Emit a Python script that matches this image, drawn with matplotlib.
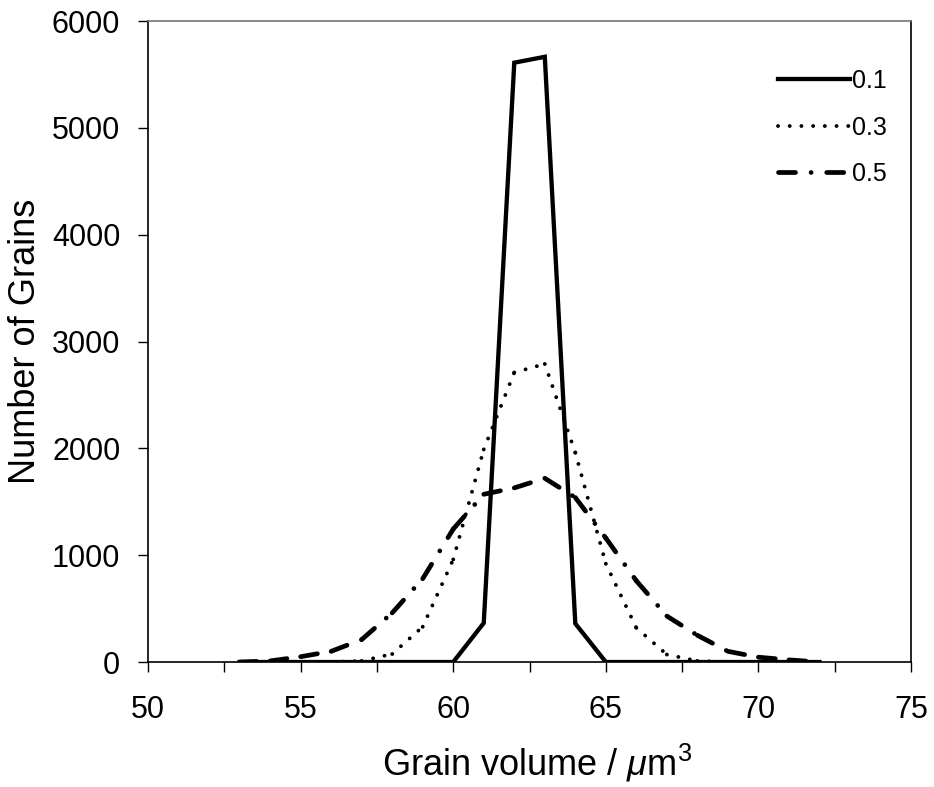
import matplotlib
matplotlib.use("Agg")
import matplotlib.pyplot as plt
from matplotlib.lines import Line2D

plt.rcParams['font.family'] = ['Liberation Sans', 'DejaVu Sans']
plt.rcParams['mathtext.fontset'] = 'custom'
plt.rcParams['mathtext.rm'] = 'Liberation Sans'
plt.rcParams['mathtext.it'] = 'Liberation Sans:italic'

# grain volume (um^3) and grain counts for each spread value
volume = [53, 54, 55, 56, 57, 58, 59, 60, 61, 62, 63, 64, 65, 66, 67, 68, 69, 70, 71, 72]
count_01 = [0, 0, 0, 0, 0, 0, 0, 0, 365, 5610, 5665, 360, 0, 0, 0, 0, 0, 0, 0, 0]
count_03 = [0, 0, 0, 0, 10, 75, 330, 960, 1990, 2710, 2790, 1960, 920, 320, 70, 10, 0, 0, 0, 0]
count_05 = [0, 10, 50, 100, 210, 460, 780, 1245, 1570, 1630, 1720, 1540, 1160, 760, 430, 250, 100, 45, 20, 0]
labels = ['0.1', '0.3', '0.5']

SOLID = dict(color='k', lw=3.1, solid_joinstyle='miter')
DOTTED = dict(color='k', lw=2.8, ls=(0, (0.01, 3.0)), dash_capstyle='round')
DASHDOT = dict(color='k', lw=3.4, ls=(0, (3.6, 3.3, 0.01, 3.3)), dash_capstyle='round')


def plot_segments(ax, x, y, style):
    # dash pattern starts again on every segment, like the original chart
    for i in range(len(x) - 1):
        ax.plot(x[i:i + 2], y[i:i + 2], **style)


fig = plt.figure(figsize=(9.34, 7.87), dpi=100)
ax = fig.add_axes([0.1585, 0.1588, 0.8169, 0.8145])

plot_segments(ax, volume, count_05, DASHDOT)
plot_segments(ax, volume, count_03, DOTTED)
ax.plot(volume, count_01, **SOLID)

ax.set_xlim(50, 75)
ax.set_ylim(0, 6000)
ax.set_xticks([50 + 2.5 * i for i in range(11)])
ax.set_xticklabels([str(50 + 5 * (i // 2)) if i % 2 == 0 else '' for i in range(11)])
ax.set_yticks(range(0, 6001, 1000))

ax.tick_params(axis='x', direction='out', length=7, width=1, pad=17, labelsize=22)
ax.tick_params(axis='y', direction='out', length=7, width=1, pad=13, labelsize=22)
for side in ['left', 'bottom', 'right']:
    ax.spines[side].set_linewidth(1.2)
ax.spines['top'].set_linewidth(1.2)
ax.spines['top'].set_color('#777777')

ax.set_ylabel('Number of Grains', fontsize=26)
ax.set_xlabel(r'Grain volume / $\mu$m$^{\mathit{3}}$', fontsize=26)
ax.yaxis.set_label_coords(-0.138, 0.5)
ax.xaxis.set_label_coords(0.51, -0.125)

handles = [Line2D([], [], **SOLID), Line2D([], [], **DOTTED), Line2D([], [], **DASHDOT)]
ax.legend(handles, labels, loc='upper right', bbox_to_anchor=(0.968, 0.925),
          frameon=False, fontsize=18, handlelength=2.9, handletextpad=0.05,
          labelspacing=0.9, borderpad=0, borderaxespad=0)

fig.savefig('out.png', dpi=100)
